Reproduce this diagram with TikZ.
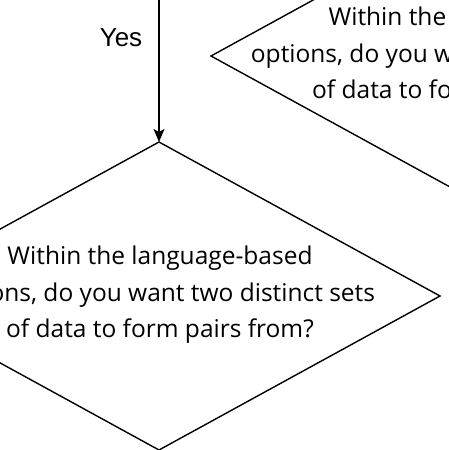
\documentclass[tikz,border=0pt]{standalone}
\usepackage{fontspec}
\setmainfont{Open Sans}
\newfontfamily\yesfont{Liberation Sans}
\usetikzlibrary{shapes.geometric,arrows.meta}
\tikzset{
  decision/.style={draw=black, line width=1.4pt, shape=diamond, inner sep=0pt, outer sep=0pt,
    minimum width=562pt, minimum height=308pt, fill=white},
  qtext/.style={align=center, font=\fontsize{24.5}{36.5}\selectfont, inner sep=0pt},
  flow/.style={draw=black, line width=1.4pt, -{Stealth[length=13pt,width=11pt,inset=3pt]}},
  lbl/.style={font=\yesfont\fontsize{26}{28}\selectfont, inner sep=0pt}
}
\begin{document}
\begin{tikzpicture}[x=1pt,y=-1pt]
\useasboundingbox (0,0) rectangle (449,450);
\clip (0,0) rectangle (449,450);
\node[decision] (d2) at (492,56) {};
\node[qtext] (t2) at (466,56) {Within the \hspace{4pt}image-based\\options, do you want two distinct sets\\of data to form pairs from?};
\node[decision] (d1) at (159,296) {};
\node[qtext] (t1) at (160,295) {Within the language-based\\options, do you want two distinct sets\\of data to form pairs from?};
\coordinate (src) at (159,-10);
\draw[flow] (src) -- (d1.north);
\node[lbl] (yes) at (121,38) {Yes};
\end{tikzpicture}
\end{document}
